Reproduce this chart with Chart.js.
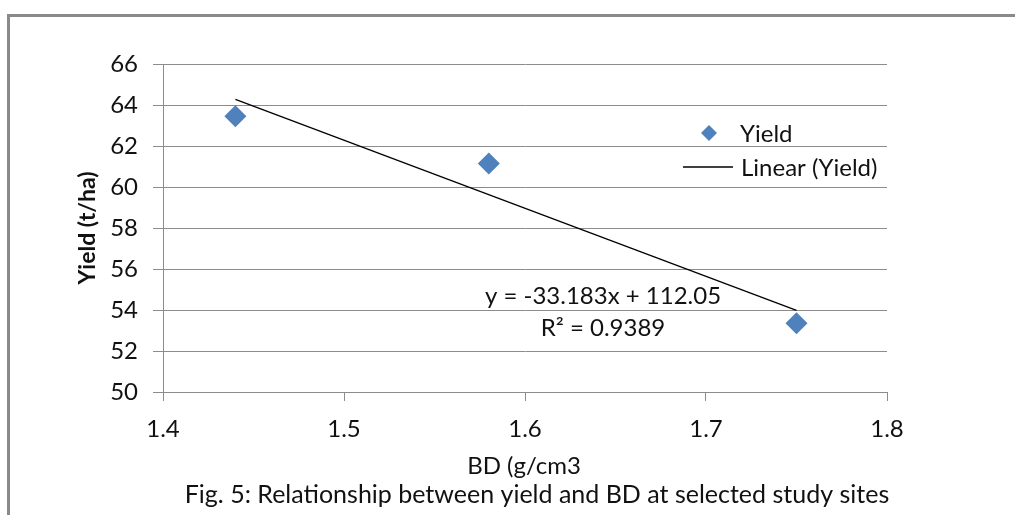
<!DOCTYPE html>
<html>
<head>
<meta charset="utf-8">
<script src="https://cdn.jsdelivr.net/npm/chart.js@4/dist/chart.umd.min.js"></script>
<style>
  html, body { margin: 0; padding: 0; background: #fff; }
  #wrap { position: relative; width: 1015px; height: 515px; overflow: hidden; }
  #frame { position: absolute; left: 7px; top: 14px; width: 1100px; height: 600px;
           border-top: 3px solid #8a8a8a; border-left: 3px solid #8a8a8a; }
  canvas { position: absolute; left: 0; top: 0; }
</style>
</head>
<body>
<div id="wrap">
  <div id="frame"></div>
  <canvas id="myChart" width="1015" height="515"></canvas>
</div>
<script>
// 데이터
var bdValues = [1.44, 1.58, 1.75];
var yieldValues = [63.45, 61.15, 53.35];
// 추세선 양 끝점
var trendX = [1.44, 1.75];
var trendY = [64.27, 53.98];
var yTicks = [50, 52, 54, 56, 58, 60, 62, 64, 66];
var xTicks = [1.4, 1.5, 1.6, 1.7, 1.8];

var FONT = 'Lato, "Open Sans", sans-serif';
var GRID = '#8c8c8c';
var BLUE = '#4f81bd';
var TXT = '#111';

var textPlugin = {
  id: 'textPlugin',
  afterDraw: function(chart) {
    var ctx = chart.ctx;
    ctx.save();
    ctx.fillStyle = TXT;
    ctx.textBaseline = 'middle';
    ctx.textAlign = 'center';
    // y축 제목
    ctx.save();
    ctx.translate(88, 228);
    ctx.rotate(-Math.PI / 2);
    ctx.font = 'bold 23px ' + FONT;
    ctx.fillText('Yield (t/ha)', 0, 0);
    ctx.restore();
    // x축 제목, 캡션
    ctx.font = '24px ' + FONT;
    ctx.fillText('BD (g/cm3', 524, 466);
    ctx.font = '25px ' + FONT;
    ctx.fillText('Fig. 5: Relationship between yield and BD at selected study sites', 537, 495);
    // 추세식
    ctx.font = '24px ' + FONT;
    ctx.fillText('y = -33.183x + 112.05', 603, 296);
    ctx.fillText('R\u00b2 = 0.9389', 603, 328);
    // 범례
    ctx.fillStyle = BLUE;
    ctx.beginPath();
    ctx.moveTo(709, 125); ctx.lineTo(717, 133); ctx.lineTo(709, 141); ctx.lineTo(701, 133);
    ctx.closePath();
    ctx.fill();
    ctx.strokeStyle = '#000';
    ctx.lineWidth = 1.3;
    ctx.beginPath();
    ctx.moveTo(683, 167); ctx.lineTo(733, 167);
    ctx.stroke();
    ctx.fillStyle = TXT;
    ctx.textAlign = 'left';
    ctx.fillText('Yield', 740, 134);
    ctx.fillText('Linear (Yield)', 741, 168);
    ctx.restore();
  }
};

var ctx = document.getElementById('myChart').getContext('2d');
var myChart = new Chart(ctx, {
  type: 'scatter',
  data: {
    datasets: [{
      label: 'Linear (Yield)',
      type: 'line',
      data: trendX.map(function(x, i) { return { x: x, y: trendY[i] }; }),
      borderColor: '#000',
      borderWidth: 1.3,
      pointRadius: 0,
      fill: false,
      order: 2
    }, {
      label: 'Yield',
      data: bdValues.map(function(x, i) { return { x: x, y: yieldValues[i] }; }),
      pointStyle: 'rectRot',
      pointRadius: 11,
      backgroundColor: BLUE,
      borderColor: BLUE,
      borderWidth: 0,
      order: 1
    }]
  },
  options: {
    responsive: false,
    animation: false,
    devicePixelRatio: 1,
    layout: { padding: { left: 0, top: 64, right: 128, bottom: 0 } },
    plugins: { legend: { display: false }, tooltip: { enabled: false } },
    scales: {
      x: {
        type: 'linear', min: 1.4, max: 1.8,
        afterFit: function(s) { s.height = 123; },
        afterBuildTicks: function(s) { s.ticks = xTicks.map(function(v) { return { value: v }; }); },
        grid: { drawOnChartArea: false, drawTicks: true, tickLength: 9, color: GRID },
        border: { color: GRID, width: 1 },
        ticks: { padding: 14, color: TXT, font: { family: FONT, size: 24 },
                 callback: function(v) { return v.toFixed(1); } }
      },
      y: {
        type: 'linear', min: 50, max: 66,
        afterFit: function(s) { s.width = 163; },
        afterBuildTicks: function(s) { s.ticks = yTicks.map(function(v) { return { value: v }; }); },
        grid: { color: GRID, tickLength: 10 },
        border: { color: GRID, width: 1 },
        ticks: { padding: 15, color: TXT, font: { family: FONT, size: 24 } }
      }
    }
  },
  plugins: [textPlugin]
});
</script>
</body>
</html>
